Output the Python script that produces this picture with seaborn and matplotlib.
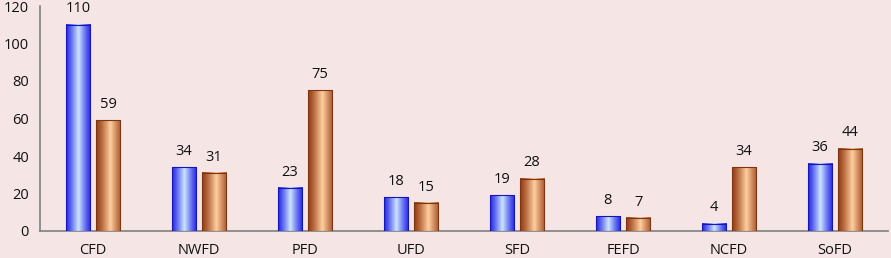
import matplotlib
matplotlib.use("Agg")
import matplotlib.pyplot as plt
import numpy as np
import pandas as pd
import seaborn as sns

categories = ["CFD", "NWFD", "PFD", "UFD", "SFD", "FEFD", "NCFD", "SoFD"]
series_a = [110, 34, 23, 18, 19, 8, 4, 36]
series_b = [59, 31, 75, 15, 28, 7, 34, 44]
y_ticks = [0, 20, 40, 60, 80, 100, 120]

bg = "#F6E5E5"

df = pd.DataFrame({
    "cat": categories * 2,
    "val": series_a + series_b,
    "series": ["A"] * len(categories) + ["B"] * len(categories),
})

sns.set_theme(style="white")
plt.rcParams["font.family"] = ["Open Sans", "DejaVu Sans"]

fig = plt.figure(figsize=(8.91, 2.58), dpi=100, facecolor=bg)
ax = fig.add_axes([40 / 891, 27 / 258, 848 / 891, 225 / 258])
ax.set_facecolor(bg)

sns.barplot(data=df, x="cat", y="val", hue="series", order=categories,
            palette=["#3A3AF0", "#B85A28"], width=0.57, gap=0.2,
            legend=False, ax=ax, edgecolor="none")


def gradient_fill(ax, patch, edge, center, mid):
    x, y = patch.get_x(), patch.get_y()
    w, h = patch.get_width(), patch.get_height()
    t = np.linspace(0, 1, 64)
    # light band near the middle of the bar
    k = np.clip(1 - np.abs(t - mid) / 0.55, 0, 1) ** 1.2
    edge = np.array(matplotlib.colors.to_rgb(edge))
    center = np.array(matplotlib.colors.to_rgb(center))
    img = edge[None, :] * (1 - k[:, None]) + center[None, :] * k[:, None]
    ax.imshow(img[None, :, :], extent=[x, x + w, y, y + h], aspect="auto",
              zorder=3, interpolation="bilinear")
    ax.add_patch(plt.Rectangle((x, y), w, h, fill=False,
                               edgecolor=edge * 0.8, linewidth=0.8, zorder=4))


styles = [("#1C1CE6", "#CDE6FF", 0.5), ("#9A4218", "#FFD0A0", 0.58)]
for i, container in enumerate(ax.containers):
    edge, center, mid = styles[i]
    for patch in container:
        gradient_fill(ax, patch, edge, center, mid)
    ax.bar_label(container, padding=6, fontsize=10.5, color="#111111")

ax.set_xlim(-0.5, len(categories) - 0.5)
ax.set_ylim(0, 120)
ax.set_yticks(y_ticks)
ax.set_xlabel("")
ax.set_ylabel("")
ax.tick_params(axis="both", length=0, labelsize=10.5, colors="#111111")
ax.tick_params(axis="x", pad=9)
ax.tick_params(axis="y", pad=8)

for side in ["top", "right"]:
    ax.spines[side].set_visible(False)
for side in ["left", "bottom"]:
    ax.spines[side].set_color("#7F7F7F")
    ax.spines[side].set_linewidth(1.2)

fig.savefig("out.png", dpi=100, facecolor=bg)
